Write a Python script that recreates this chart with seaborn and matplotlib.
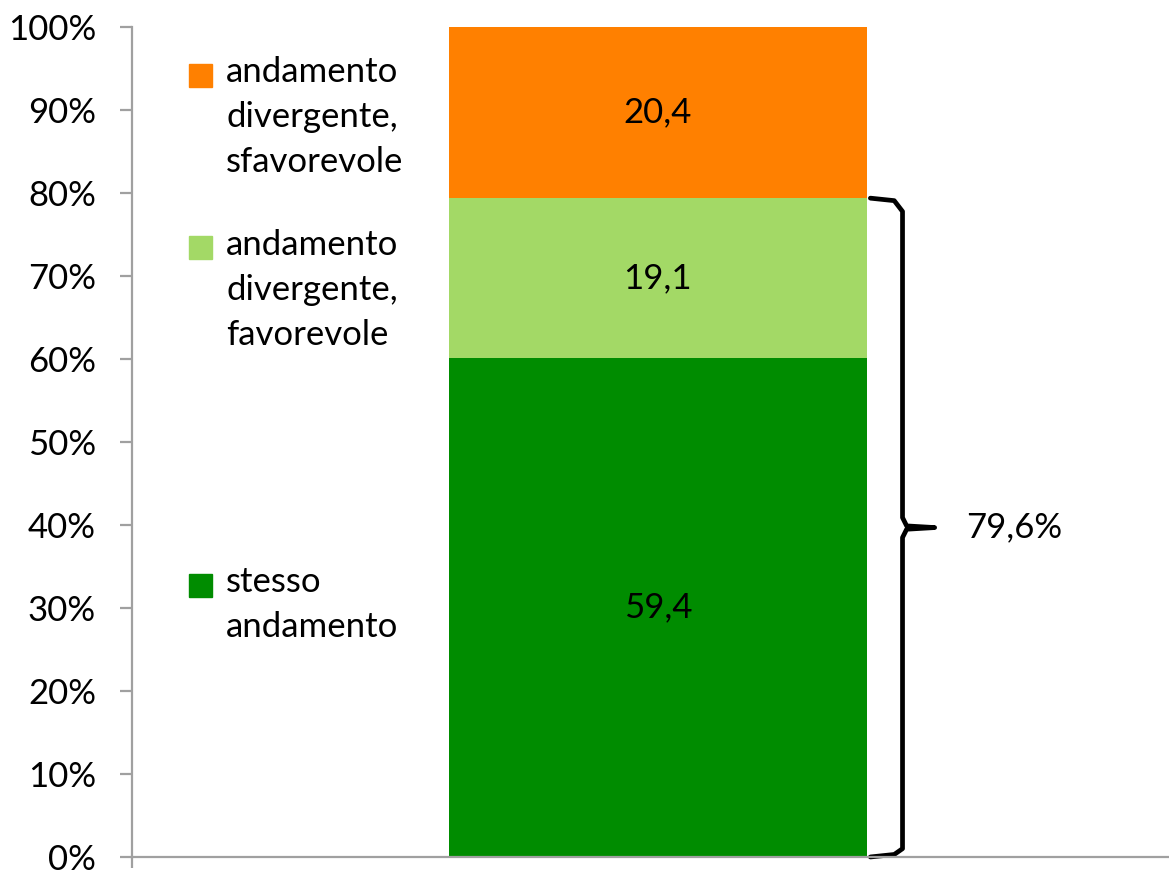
import numpy as np
import pandas as pd
import seaborn as sns
import matplotlib.pyplot as plt
from matplotlib.patches import Rectangle
from matplotlib.lines import Line2D

# Data
categories = ["stesso andamento", "andamento divergente, favorevole", "andamento divergente, sfavorevole"]
legend_labels = ["stesso\nandamento", "andamento\ndivergente,\nfavorevole", "andamento\ndivergente,\nsfavorevole"]
values = [59.4, 19.1, 20.4]
colors = ["#008C00", "#A3D966", "#FF8000"]
brace_label = "79,6%"
yticks = [0, 10, 20, 30, 40, 50, 60, 70, 80, 90, 100]

sns.set_theme(style="white")
plt.rcParams['font.family'] = ['Lato', 'DejaVu Sans']
FS = 25

# 100% stacked bar
shares = np.array(values) / np.sum(values) * 100
tops = np.cumsum(shares)
bottoms = tops - shares
df = pd.DataFrame({"cat": categories, "share": shares, "top": tops, "bottom": bottoms})

fig = plt.figure(figsize=(11.69, 8.75), dpi=100)
ax = fig.add_axes([0.113, 0.0206, 0.887, 0.9486])

# draw cumulative layers from the tallest down so they stack
for i in reversed(range(len(df))):
    sns.barplot(x=[""], y=[df["top"][i]], color=colors[i], width=0.403,
                saturation=1, ax=ax, linewidth=0)

for i in range(len(df)):
    mid = df["bottom"][i] + df["share"][i] / 2
    ax.text(0, mid, f"{values[i]:.1f}".replace(".", ","), ha="center", va="center",
            fontsize=FS, color="black")

ax.set_xlim(-0.507, 0.493)
ax.set_ylim(0, 100)
ax.set_yticks(yticks)
ax.set_yticklabels([f"{t}%" for t in yticks], fontsize=FS, color="black")
ax.set_xticks([-0.507])
ax.set_xticklabels([""])
ax.set_xlabel("")
ax.set_ylabel("")

for side in ["top", "right"]:
    ax.spines[side].set_visible(False)
for side in ["left", "bottom"]:
    ax.spines[side].set_color("#A0A0A0")
    ax.spines[side].set_linewidth(1.6)
ax.tick_params(axis="y", length=9, width=1.6, color="#A0A0A0", pad=17, left=True)
ax.tick_params(axis="x", length=8, width=1.6, color="#A0A0A0", bottom=True)

# curly brace next to the lower two segments
brace_top = tops[1]
x0, x1, x2 = 0.205, 0.236, 0.267
mid = brace_top / 2
bx = [x0, x1 - 0.008, x1, x1, x1 + 0.004, x2, x1 + 0.004, x1, x1, x1 - 0.008, x0]
by = [brace_top, brace_top - 0.3, brace_top - 1.6, mid + 1.2, mid + 0.2, mid,
      mid - 0.2, mid - 1.2, 1.0, 0.3, 0]
ax.add_line(Line2D(bx, by, color="black", linewidth=3.4, solid_joinstyle="round",
                   solid_capstyle="round", clip_on=False))
ax.text(0.297, mid, brace_label, ha="left", va="center", fontsize=FS, color="black")

# legend drawn as separate entries beside the axis
legend_y = [585, 248, 75]  # pixel rows from the top of the figure
W, H = fig.get_size_inches() * fig.dpi
for i in range(len(categories)):
    yc = 1 - legend_y[i] / H
    fig.patches.append(Rectangle((189 / W, yc - 11.5 / H), 23 / W, 23 / H,
                                 transform=fig.transFigure, color=colors[i]))
    fig.text(226 / W, yc + 19 / H, legend_labels[i], ha="left", va="top",
             fontsize=FS, linespacing=1.5, color="black")

fig.savefig("out.png", dpi=100)
